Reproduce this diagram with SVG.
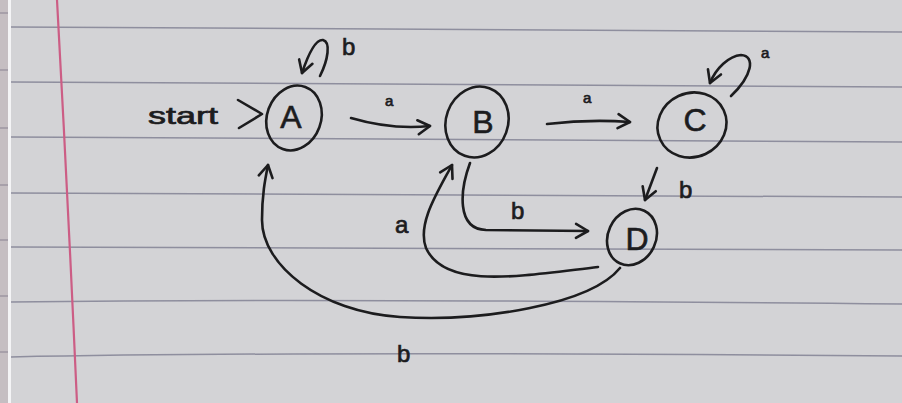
<svg xmlns="http://www.w3.org/2000/svg" width="902" height="403" viewBox="0 0 902 403">
<style>
.ink{fill:none;stroke:#1c1c1e;stroke-width:2.6;stroke-linecap:round;stroke-linejoin:round}
.rule{fill:none;stroke:#8e8e9e;stroke-width:1.5}
.lbl{font-family:"Liberation Sans","DejaVu Sans",sans-serif;fill:#1c1c1e;stroke:#1c1c1e;stroke-width:0.7}
.big{font-size:24px}
.small{font-size:15px}
.node{font-family:"Liberation Sans","DejaVu Sans",sans-serif;fill:#1c1c1e;stroke:#1c1c1e;stroke-width:0.6;font-size:32px;text-anchor:middle}
</style>
<defs>
<marker id="ah" markerUnits="userSpaceOnUse" markerWidth="24" markerHeight="24" refX="0" refY="0" viewBox="-14 -12 16 24" orient="auto" overflow="visible">
<path d="M -12 -7 L 0 0 L -12 7" fill="none" stroke="#1c1c1e" stroke-width="2.6" stroke-linecap="round" stroke-linejoin="round"/>
</marker>
</defs>
<!-- background -->
<rect width="902" height="403" fill="#d3d3d6"/>
<rect x="0" y="0" width="8" height="403" fill="#c5bec2"/>
<rect x="8" y="0" width="3" height="403" fill="#f4f4f6"/>
<g stroke="#9a94a0" stroke-width="1.4">
<line x1="0" y1="13" x2="8" y2="13"/><line x1="0" y1="70" x2="8" y2="70"/><line x1="0" y1="128" x2="8" y2="128"/>
<line x1="0" y1="185" x2="8" y2="185"/><line x1="0" y1="240" x2="8" y2="240"/><line x1="0" y1="296" x2="8" y2="296"/><line x1="0" y1="352" x2="8" y2="352"/>
</g>
<g class="rule">
<path d="M11 27 L902 32"/>
<path d="M11 82 L902 87"/>
<path d="M11 137 L902 142"/>
<path d="M11 193 Q450 193 902 197"/>
<path d="M11 247 Q450 247 902 250"/>
<path d="M11 302 Q300 298 902 304"/>
<path d="M11 357 Q300 351 902 356"/>
</g>
<path d="M57 0 Q68 200 77 403" fill="none" stroke="#cc5d85" stroke-width="2.2"/>

<!-- connectors -->
<g id="connectors">
<polyline class="ink" points="238,100 262,114 239,128"/>
<path class="ink" d="M351 118 Q392 130 430 126" marker-end="url(#ah)"/>
<path class="ink" d="M547 124 Q590 119 630 122" marker-end="url(#ah)"/>
<path class="ink" d="M320 76 C328 60 331 42 323 40 C315 39 307 58 302 73" marker-end="url(#ah)"/>
<path class="ink" d="M731 96 C752 76 756 56 741 55 C729 56 716 68 710 83" marker-end="url(#ah)"/>
<path class="ink" d="M657 168 L645 200" marker-end="url(#ah)"/>
<path class="ink" d="M470 163 C460 190 456 229 486 230 L588 231" marker-end="url(#ah)"/>
<path class="ink" d="M598 267 C520 276 445 290 426 248 C417 224 437 193 452 165" marker-end="url(#ah)"/>
<path class="ink" d="M620 268 C590 305 480 322 400 317 C320 312 262 265 262 220 C262 195 265 180 268 165" marker-end="url(#ah)"/>
</g>

<!-- labels -->
<text class="lbl big" x="148" y="124" textLength="70" lengthAdjust="spacingAndGlyphs">start</text>
<text class="lbl big" x="342" y="55" font-size="28">b</text>
<text class="lbl small" x="385" y="106">a</text>
<text class="lbl small" x="583" y="103">a</text>
<text class="lbl small" x="761" y="58">a</text>
<text class="lbl big" x="679" y="198">b</text>
<text class="lbl big" x="511" y="219">b</text>
<text class="lbl big" x="395" y="233">a</text>
<text class="lbl big" x="397" y="362">b</text>

<!-- nodes -->
<g id="A">
<ellipse class="ink" cx="294" cy="118" rx="27" ry="33" transform="rotate(20 294 118)"/>
<text class="node" x="291" y="128" font-size="36">A</text>
</g>
<g id="B">
<ellipse class="ink" cx="477" cy="122" rx="31" ry="36" transform="rotate(20 477 122)"/>
<text class="node" x="483" y="133">B</text>
</g>
<g id="C">
<ellipse class="ink" cx="692" cy="125" rx="35" ry="32" transform="rotate(-25 692 125)"/>
<text class="node" x="695" y="131">C</text>
</g>
<g id="D">
<ellipse class="ink" cx="632" cy="237" rx="24" ry="29" transform="rotate(25 632 237)"/>
<text class="node" x="637" y="250" font-size="34">D</text>
</g>
</svg>
